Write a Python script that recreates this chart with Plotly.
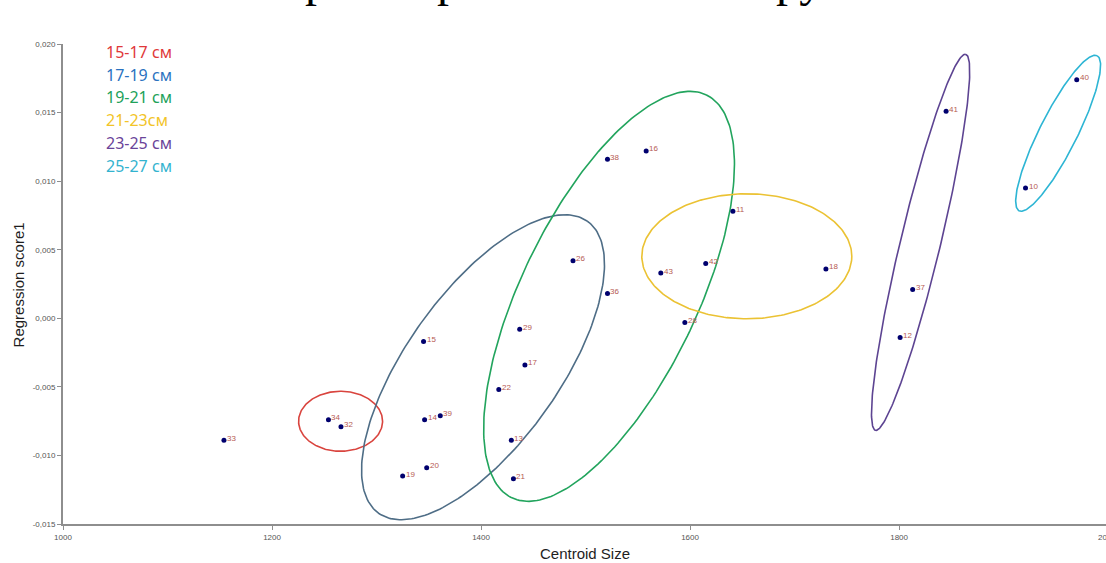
import numpy as np
import plotly.graph_objects as go

# ---------------- data ----------------
point_ids = ["33", "34", "32", "15", "14", "39", "19", "20", "22", "17", "13", "21", "29",
             "38", "16", "26", "36", "43", "28", "11", "42", "18", "41", "40", "10", "37", "12"]
centroid_size = [1154, 1254, 1266, 1345, 1346, 1361, 1325, 1348, 1417, 1442, 1429, 1431, 1437,
                 1521, 1558, 1488, 1521, 1572, 1595, 1641, 1615, 1730, 1845, 1970, 1921, 1813, 1801]
regression_score = [-0.0089, -0.0074, -0.0079, -0.0017, -0.0074, -0.0071, -0.0115, -0.0109,
                    -0.0052, -0.0034, -0.0089, -0.0117, -0.0008, 0.0116, 0.0122, 0.0042, 0.0018,
                    0.0033, -0.0003, 0.0078, 0.0040, 0.0036, 0.0151, 0.0174, 0.0095, 0.0021, -0.0014]

group_labels = ["15-17 см", "17-19 см", "19-21 см", "21-23см", "23-25 см", "25-27 см"]
group_text_colors = ["#e0383a", "#2a72c0", "#21a159", "#f2c428", "#6a4399", "#33b3cf"]

x_tick_values = [1000, 1200, 1400, 1600, 1800, 2000]
x_tick_labels = ["1000", "1200", "1400", "1600", "1800", "2000"]
y_tick_values = [-0.015, -0.010, -0.005, 0.000, 0.005, 0.010, 0.015, 0.020]
y_tick_labels = ["-0,015", "-0,010", "-0,005", "0,000", "0,005", "0,010", "0,015", "0,020"]

title_text = "Форма черепа особей по группам"

# group ellipses (hand-drawn overlays): centre in data units, semi-axes in px, angle in deg
ellipse_center_x = [1265.6, 1401.9, 1522.5, 1654.3, 1820.6, 1952.2]
ellipse_center_y = [-0.00751, -0.00357, 0.0016, 0.00452, 0.00554, 0.01349]
ellipse_semi_a = [42, 179.5, 223.7, 105, 193.3, 86.8]
ellipse_semi_b = [30, 76.2, 87.8, 62.5, 20.0, 18.8]
ellipse_angle = [0, 54.4, 64.2, 0, 76.5, 63.3]
ellipse_colors = ["#d9443e", "#4e6d86", "#22a45d", "#ebc233", "#5d4492", "#2db5d4"]

# ---------------- layout geometry ----------------
W, H = 1106, 563
ML, MR, MT, MB = 63, 0, 44, 39
X_RANGE = [1000, 1998]
Y_RANGE = [-0.015, 0.020]
PLOT_W = W - ML - MR
PLOT_H = H - MT - MB
px_per_x = PLOT_W / (X_RANGE[1] - X_RANGE[0])
px_per_y = PLOT_H / (Y_RANGE[1] - Y_RANGE[0])

fig = go.Figure()

# ellipses
t = np.linspace(0, 2 * np.pi, 240)
for cx, cy, a, b, ang, col in zip(ellipse_center_x, ellipse_center_y, ellipse_semi_a,
                                  ellipse_semi_b, ellipse_angle, ellipse_colors):
    th = np.deg2rad(ang)
    dx = a * np.cos(t) * np.cos(th) - b * np.sin(t) * np.sin(th)
    dy = a * np.cos(t) * np.sin(th) + b * np.sin(t) * np.cos(th)
    fig.add_trace(go.Scatter(x=cx + dx / px_per_x, y=cy + dy / px_per_y, mode="lines",
                             line=dict(color=col, width=1.6), hoverinfo="skip",
                             showlegend=False))

# points
fig.add_trace(go.Scatter(x=centroid_size, y=regression_score, mode="markers",
                         marker=dict(size=5, color="#00006e"), text=point_ids,
                         hovertemplate="%{text}: %{x}, %{y}<extra></extra>", showlegend=False))

annotations = []
for pid, xv, yv in zip(point_ids, centroid_size, regression_score):
    annotations.append(dict(x=xv, y=yv, xref="x", yref="y", text=pid, showarrow=False,
                            xanchor="left", yanchor="middle", xshift=1, yshift=2,
                            font=dict(family="Arial, Liberation Sans", size=8, color="#b65a52")))

# legend texts
for i, (lab, col) in enumerate(zip(group_labels, group_text_colors)):
    ypx = 51.7 + i * 22.8
    annotations.append(dict(x=(104 - ML) / PLOT_W, y=(MT + PLOT_H - ypx) / PLOT_H,
                            xref="paper", yref="paper", text=lab, showarrow=False,
                            xanchor="left", yanchor="middle",
                            font=dict(family="Noto Sans", size=16, color=col)))

# axis titles
annotations.append(dict(x=0.5, y=0, xref="paper", yref="paper", text="Centroid Size",
                        showarrow=False, xanchor="center", yanchor="middle", yshift=-29,
                        font=dict(family="Arial, Liberation Sans", size=15, color="#1e1e1e")))
annotations.append(dict(x=(18 - ML) / PLOT_W, y=0.497, xref="paper", yref="paper",
                        text="Regression score1", textangle=-90, showarrow=False,
                        xanchor="center", yanchor="middle",
                        font=dict(family="Arial, Liberation Sans", size=15, color="#1e1e1e")))
# last x tick label, cut at the page edge as in the reference
annotations.append(dict(x=(1107 - ML) / PLOT_W, y=0, xref="paper", yref="paper",
                        text=x_tick_labels[-1], showarrow=False, xanchor="center",
                        yanchor="middle", yshift=-13,
                        font=dict(family="Arial, Liberation Sans", size=8, color="#555555")))
# title, mostly above the visible page as in the reference
annotations.append(dict(x=(241 - ML) / PLOT_W, y=1 + (MT - 8) / PLOT_H, xref="paper",
                        yref="paper", text=title_text, showarrow=False, xanchor="left",
                        yanchor="bottom",
                        font=dict(family="Liberation Serif", size=48, color="#000000")))

axis_common = dict(showline=True, linecolor="#8e8e8e", linewidth=2, ticks="outside",
                   ticklen=4, tickwidth=1, tickcolor="#8e8e8e", showgrid=False,
                   zeroline=False, tickfont=dict(family="Arial, Liberation Sans", size=8,
                                                 color="#555555"))

fig.update_layout(
    width=W, height=H,
    margin=dict(l=ML, r=MR, t=MT, b=MB),
    paper_bgcolor="white", plot_bgcolor="white",
    xaxis=dict(range=X_RANGE, tickvals=x_tick_values, ticktext=x_tick_labels, **axis_common),
    yaxis=dict(range=Y_RANGE, tickvals=y_tick_values, ticktext=y_tick_labels, **axis_common),
    annotations=annotations,
    showlegend=False,
)

fig.write_html("out.html", config={"displayModeBar": False},
               post_script="document.body.style.margin='0';document.body.style.overflow='hidden';")
